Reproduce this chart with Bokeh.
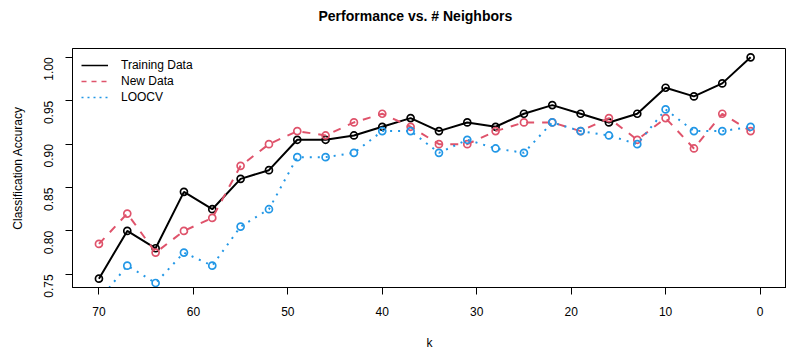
import math
from bokeh.plotting import figure
from bokeh.models import FixedTicker, Range1d, Legend, LegendItem, NumeralTickFormatter, Title
from bokeh.embed import file_html
from bokeh.resources import INLINE

k = [70, 67, 64, 61, 58, 55, 52, 49, 46, 43, 40, 37, 34, 31, 28, 25, 22, 19, 16, 13, 10, 7, 4, 1]
training = [0.745, 0.80, 0.78, 0.845, 0.825, 0.86, 0.87, 0.905, 0.905, 0.91, 0.92, 0.93,
            0.915, 0.925, 0.92, 0.935, 0.945, 0.935, 0.925, 0.935, 0.965, 0.955, 0.97, 1.00]
new_data = [0.785, 0.82, 0.775, 0.80, 0.815, 0.875, 0.90, 0.915, 0.91, 0.925, 0.935, 0.92,
            0.90, 0.90, 0.915, 0.925, 0.925, 0.915, 0.93, 0.905, 0.93, 0.895, 0.935, 0.915]
loocv = [0.72, 0.76, 0.74, 0.775, 0.76, 0.805, 0.825, 0.885, 0.885, 0.89, 0.915, 0.915,
         0.89, 0.905, 0.895, 0.89, 0.925, 0.915, 0.91, 0.90, 0.94, 0.915, 0.915, 0.92]
x_ticks = [70, 60, 50, 40, 30, 20, 10, 0]
y_ticks = [0.75, 0.80, 0.85, 0.90, 0.95, 1.00]
title_text = "Performance vs. # Neighbors"

FONT = "Liberation Sans"
RED = "#DF536B"
BLUE = "#2297E6"

p = figure(width=786, height=352, output_backend="svg", toolbar_location=None,
           x_range=Range1d(72.8, -2.8), y_range=Range1d(0.7348, 1.0102),
           min_border_left=72, min_border_right=0, min_border_top=48, min_border_bottom=62)

# real title (outer panel)
p.title.text = title_text
p.title.align = "left"
p.title.offset = 246
p.title.standoff = 0
p.title.vertical_align = "bottom"
p.title.text_font = FONT
p.title.text_font_size = "14px"
p.title.text_font_style = "bold"
p.title.text_color = "black"

# spacer panel between the title and the frame
p.add_layout(Title(text=" ", standoff=7, text_font=FONT, text_font_size="14px"), "above")

p.xgrid.visible = False
p.ygrid.visible = False
p.outline_line_color = "black"
p.outline_line_width = 1

for ax in (p.xaxis[0], p.yaxis[0]):
    ax.axis_line_color = "black"
    ax.major_tick_out = 7
    ax.major_tick_in = 0
    ax.minor_tick_out = 0
    ax.minor_tick_in = 0
    ax.major_label_text_font = FONT
    ax.major_label_text_font_size = "12px"
    ax.major_label_text_color = "black"
    ax.axis_label_text_font = FONT
    ax.axis_label_text_font_size = "12px"
    ax.axis_label_text_font_style = "normal"
    ax.axis_label_text_color = "black"

p.xaxis.ticker = FixedTicker(ticks=x_ticks)
p.yaxis.ticker = FixedTicker(ticks=y_ticks)
p.yaxis.formatter = NumeralTickFormatter(format="0.00")
p.yaxis.major_label_orientation = math.pi / 2
p.xaxis.major_label_standoff = 12
p.yaxis.major_label_standoff = 17
p.xaxis.axis_label = "k"
p.yaxis.axis_label = "Classification Accuracy"
p.xaxis.axis_label_standoff = 17
p.yaxis.axis_label_standoff = 12

p.line(k, training, line_color="black", line_width=2)
p.scatter(k, training, marker="circle", size=7, fill_color=None, line_color="black", line_width=1.7)
p.line(k, new_data, line_color=RED, line_width=2, line_dash="8 8")
p.scatter(k, new_data, marker="circle", size=7, fill_color=None, line_color=RED, line_width=1.7)
p.line(k, loocv, line_color=BLUE, line_width=2, line_dash="2 6")
p.scatter(k, loocv, marker="circle", size=7, fill_color=None, line_color=BLUE, line_width=1.7)

# legend samples (thinner lines as in the original key); single point -> nothing drawn in plot
l1 = p.line(k[:1], training[:1], line_color="black", line_width=1.5)
l2 = p.line(k[:1], new_data[:1], line_color=RED, line_width=1.5, line_dash="5 5")
l3 = p.line(k[:1], loocv[:1], line_color=BLUE, line_width=1.5, line_dash="2 4")

legend = Legend(items=[LegendItem(label="Training Data", renderers=[l1]),
                       LegendItem(label="New Data", renderers=[l2]),
                       LegendItem(label="LOOCV", renderers=[l3])],
                location="top_left")
legend.border_line_color = None
legend.background_fill_alpha = 0
legend.label_text_font = FONT
legend.label_text_font_size = "12px"
legend.label_text_color = "black"
legend.glyph_width = 27
legend.glyph_height = 16
legend.label_height = 16
legend.spacing = 0
legend.padding = 4
legend.margin = 9
legend.label_standoff = 13
p.add_layout(legend)

open("out.html", "w").write(file_html(p, INLINE))
